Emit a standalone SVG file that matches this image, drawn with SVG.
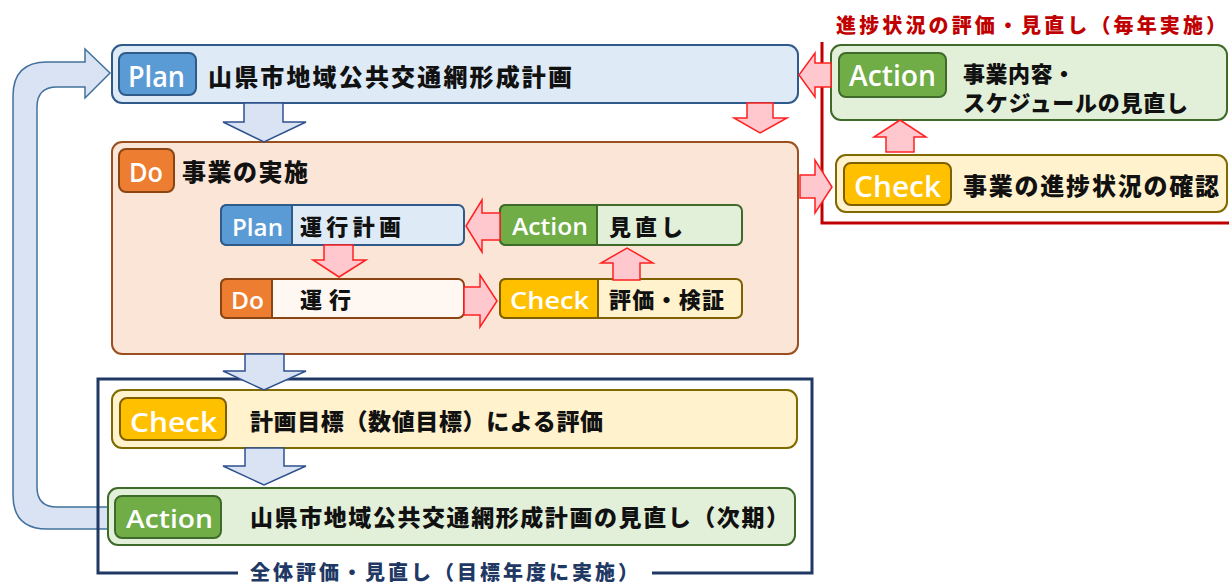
<svg xmlns="http://www.w3.org/2000/svg" width="1229" height="586" viewBox="0 0 1229 586">
<style>
.jp{font-family:"Noto Sans CJK JP","Noto Sans CJK SC",sans-serif;font-weight:900;fill:#111;}
.bd{font-family:"Open Sans","Noto Sans","Liberation Sans",sans-serif;font-weight:600;fill:#fff;}
.planBox{fill:#deebf7;stroke:#2f5a8a;stroke-width:2;}
.planBadge{fill:#5b9bd5;stroke:#2f5a8a;stroke-width:2;}
.doBox{fill:#fbe5d6;stroke:#9c4f1e;stroke-width:2;}
.doBadge{fill:#ed7d31;stroke:#8b4513;stroke-width:2;}
.chkBox{fill:#fff2cc;stroke:#7f6a00;stroke-width:2;}
.chkBadge{fill:#ffc000;stroke:#7f6000;stroke-width:2;}
.actBox{fill:#e2f0d9;stroke:#3f6a2a;stroke-width:2;}
.actBadge{fill:#70ad47;stroke:#3f6a2a;stroke-width:2;}
.barrow{fill:#dae3f3;stroke:#2f528f;stroke-width:1.5;stroke-linejoin:miter;}
.rarrow{fill:#ffc7ce;stroke:#ff2020;stroke-width:1.5;stroke-linejoin:miter;}
</style>

<!-- loop arrow -->
<g id="loop">
<path class="barrow" d="M108,507 L57,507 Q37,507 37,487 L37,107 Q37,87 57,87 L85,87 L85,98 L110,73 L85,49 L85,62 L47,62 Q13,62 13,96 L13,495 Q13,529 47,529 L108,529 Z" style="stroke:#41719c"/>
</g>

<!-- red bracket -->
<g id="progress-frame">
<path d="M822,42 L822,223 L1229,223" fill="none" stroke="#c00000" stroke-width="3"/>
<text class="jp" x="836" y="33" font-size="20" textLength="390" lengthAdjust="spacing" style="fill:#c00000">進捗状況の評価・見直し（毎年実施）</text>
</g>

<!-- Plan -->
<g id="plan">
<rect class="planBox" x="112" y="45" width="686" height="58" rx="10"/>
<rect class="planBadge" x="119" y="53" width="77" height="42" rx="7"/>
<text class="bd" x="128" y="87" font-size="28" textLength="57" lengthAdjust="spacingAndGlyphs">Plan</text>
<text class="jp" x="208" y="86" font-size="24" textLength="364" lengthAdjust="spacing">山県市地域公共交通網形成計画</text>
</g>

<!-- Do -->
<g id="do">
<rect class="doBox" x="112" y="142" width="686" height="212" rx="10"/>
<rect class="doBadge" x="119" y="149" width="55" height="43" rx="7"/>
<text class="bd" x="129" y="182" font-size="27" textLength="34" lengthAdjust="spacingAndGlyphs">Do</text>
<text class="jp" x="182" y="181" font-size="24" textLength="126" lengthAdjust="spacing">事業の実施</text>
</g>

<g id="inner-plan">
<rect x="221" y="205" width="243" height="40" rx="6" fill="#deebf7" stroke="#2f5a8a" stroke-width="2"/>
<path d="M292,205 L227,205 Q221,205 221,211 L221,239 Q221,245 227,245 L292,245 Z" fill="#5b9bd5" stroke="#2f5a8a" stroke-width="2"/>
<text class="bd" x="232" y="236" font-size="24" textLength="51" lengthAdjust="spacingAndGlyphs">Plan</text>
<text class="jp" x="300" y="235" font-size="22" textLength="101" lengthAdjust="spacing">運行計画</text>
</g>

<g id="inner-do">
<rect x="221" y="279" width="243" height="39" rx="6" fill="#fff8f2" stroke="#8b4513" stroke-width="2"/>
<path d="M272,279 L227,279 Q221,279 221,285 L221,312 Q221,318 227,318 L272,318 Z" fill="#ed7d31" stroke="#8b4513" stroke-width="2"/>
<text class="bd" x="231" y="309" font-size="24" textLength="33" lengthAdjust="spacingAndGlyphs">Do</text>
<text class="jp" x="300" y="308" font-size="22" textLength="51" lengthAdjust="spacing">運行</text>
</g>

<g id="inner-action">
<rect x="500" y="205" width="242" height="40" rx="6" fill="#e2f0d9" stroke="#3f6a2a" stroke-width="2"/>
<path d="M597,205 L506,205 Q500,205 500,211 L500,239 Q500,245 506,245 L597,245 Z" fill="#70ad47" stroke="#3f6a2a" stroke-width="2"/>
<text class="bd" x="512" y="235" font-size="23" textLength="76" lengthAdjust="spacingAndGlyphs">Action</text>
<text class="jp" x="609" y="235" font-size="22" textLength="74" lengthAdjust="spacing">見直し</text>
</g>

<g id="inner-check">
<rect x="500" y="279" width="242" height="39" rx="6" fill="#fff2cc" stroke="#7f6000" stroke-width="2"/>
<path d="M598,279 L506,279 Q500,279 500,285 L500,312 Q500,318 506,318 L598,318 Z" fill="#ffc000" stroke="#7f6000" stroke-width="2"/>
<text class="bd" x="510" y="309" font-size="23" textLength="79" lengthAdjust="spacingAndGlyphs">Check</text>
<text class="jp" x="609" y="308" font-size="22" textLength="115" lengthAdjust="spacing">評価・検証</text>
</g>

<!-- right side -->
<g id="right-action">
<rect class="actBox" x="831" y="45" width="396" height="75" rx="10"/>
<rect class="actBadge" x="839" y="53" width="107" height="44" rx="7"/>
<text class="bd" x="849" y="86" font-size="28" textLength="87" lengthAdjust="spacingAndGlyphs">Action</text>
<text class="jp" x="963" y="82" font-size="22" textLength="112" lengthAdjust="spacing">事業内容・</text>
<text class="jp" x="963" y="111" font-size="22" textLength="225" lengthAdjust="spacing">スケジュールの見直し</text>
</g>

<g id="right-check">
<rect class="chkBox" x="836" y="155" width="391" height="57" rx="10"/>
<rect class="chkBadge" x="844" y="163" width="107" height="42" rx="7"/>
<text class="bd" x="854" y="197" font-size="29" textLength="87" lengthAdjust="spacingAndGlyphs">Check</text>
<text class="jp" x="963" y="195" font-size="24" textLength="256" lengthAdjust="spacing">事業の進捗状況の確認</text>
</g>

<!-- overall frame -->
<g id="overall-frame">
<path d="M238,573 L98,573 L98,379 L812,379 L812,573 L652,573" fill="none" stroke="#1f3864" stroke-width="3"/>
<text class="jp" x="250" y="580" font-size="20" textLength="388" lengthAdjust="spacing" style="fill:#1f3864">全体評価・見直し（目標年度に実施）</text>
</g>

<g id="check">
<rect class="chkBox" x="112" y="390" width="685" height="58" rx="10"/>
<rect class="chkBadge" x="120" y="398" width="106" height="42" rx="7"/>
<text class="bd" x="130" y="432" font-size="27" textLength="87" lengthAdjust="spacingAndGlyphs">Check</text>
<text class="jp" x="250" y="430" font-size="23" textLength="353" lengthAdjust="spacing">計画目標（数値目標）による評価</text>
</g>

<g id="action">
<rect class="actBox" x="108" y="488" width="687" height="57" rx="10"/>
<rect class="actBadge" x="115" y="496" width="106" height="42" rx="7"/>
<text class="bd" x="126" y="528" font-size="26" textLength="87" lengthAdjust="spacingAndGlyphs">Action</text>
<text class="jp" x="250" y="526" font-size="23" textLength="539" lengthAdjust="spacing">山県市地域公共交通網形成計画の見直し（次期）</text>
</g>

<!-- connectors -->
<g id="connectors">
<polygon class="barrow" points="244,103 283,103 283,122 306,122 264,142 223,122 244,122"/>
<polygon class="barrow" points="245,354 284,354 284,371 306,371 264,390 223,371 245,371"/>
<polygon class="barrow" points="245,448 284,448 284,466 306,466 264,485 223,466 245,466"/>
<polygon class="rarrow" points="831,63 815,63 815,53 799,75 815,97 815,87 831,87"/>
<polygon class="rarrow" points="747,103 773,103 773,118 787,118 760,133 734,118 747,118"/>
<polygon class="rarrow" points="800,175 815,175 815,160 832,187 815,213 815,198 800,198"/>
<polygon class="rarrow" points="886,152 886,137 874,137 900,120 926,137 914,137 914,152"/>
<polygon class="rarrow" points="500,213 482,213 482,200 466,226 482,252 482,240 500,240"/>
<polygon class="rarrow" points="324,245 353,245 353,260 366,260 339,277 313,260 324,260"/>
<polygon class="rarrow" points="464,287 480,287 480,275 497,301 480,327 480,315 464,315"/>
<polygon class="rarrow" points="613,280 613,263 601,263 627,248 653,263 640,263 640,280"/>
</g>
</svg>
